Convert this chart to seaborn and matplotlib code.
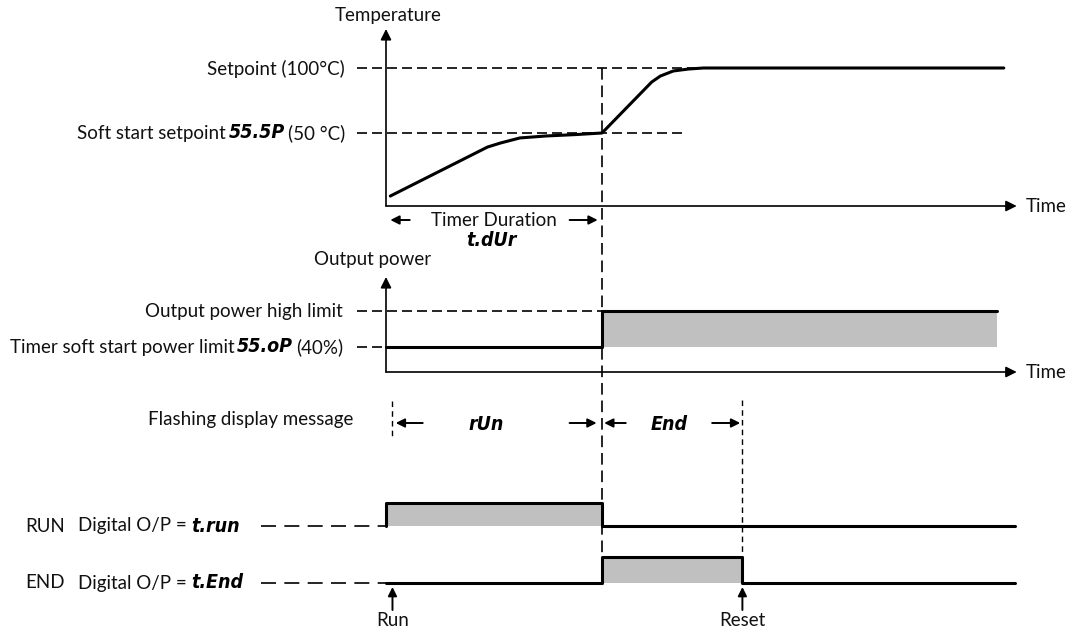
import seaborn as sns
import matplotlib.pyplot as plt

# timing values (arbitrary time units, soft start timer runs from 0 to 10)
timer_start = 0.0
timer_duration = 10.0
reset_time = 16.5
temp_end = 28.6
power_end = 28.3
digital_end = 29.1

setpoint = 100        # degC
soft_setpoint = 50    # degC  (SS.SP)
power_high = 100      # %
power_soft = 40       # %     (SS.OP)

# temperature response
temp_time = [0.2, 4.7, 5.3, 6.2, 7.4, 8.8, 10.0, 12.3, 12.7, 13.3, 14.0, 14.7, 28.6]
temp_value = [1.5, 39.2, 42.3, 46.2, 47.7, 48.8, 50.0, 89.2, 93.8, 97.7, 99.2, 100, 100]

power_time = [timer_start, timer_duration, timer_duration, power_end]
power_value = [power_soft, power_soft, power_high, power_high]

run_time = [timer_start, timer_start, timer_duration, timer_duration, digital_end]
run_state = [0, 1, 1, 0, 0]
end_time = [timer_start, timer_duration, timer_duration, reset_time, reset_time, digital_end]
end_state = [0, 0, 1, 1, 0, 0]

# ---- layout ----
W, H = 1071, 629
ORIGIN_X = 386          # pixel column of the time origin
PX_PER_T = 21.6
XLIM = (-ORIGIN_X / PX_PER_T, (W - ORIGIN_X) / PX_PER_T)
T_ARROW = 29.2

sns.set_theme(style="white")
plt.rcParams['font.family'] = ['Lato', 'DejaVu Sans']

GREY = '#c0c0c0'
DASH = dict(color='black', lw=1.2, ls=(0, (6, 3)), clip_on=False)
LEADER = dict(color='black', lw=1.2, ls=(0, (9, 5)), clip_on=False)
TXT = dict(fontsize=13.5, color='#111111')
SEG = dict(family='DejaVu Sans', fontstretch='condensed', fontweight='bold',
           fontstyle='italic', fontsize=14, color='black')

fig = plt.figure(figsize=(W / 100, H / 100), dpi=100)

# pixel overlay for the row labels, time x rows overlay for guides
px = fig.add_axes([0, 0, 1, 1])
px.set_xlim(0, W)
px.set_ylim(H, 0)
px.axis('off')

lay = fig.add_axes([0, 0, 1, 1])
lay.set_xlim(XLIM)
lay.set_ylim(H, 0)
lay.axis('off')
lay.patch.set_alpha(0)


def panel(row_a, val_a, row_b, val_b):
    ax = fig.add_axes([0, 1 - row_a / H, 1, (row_a - row_b) / H])
    ax.patch.set_alpha(0)
    ax.axis('off')
    return ax, (val_a, val_b)


panels = [panel(133, soft_setpoint, 68, setpoint),
          panel(347, power_soft, 311, power_high),
          panel(526, 0, 503, 1),
          panel(583, 0, 557, 1)]
ax_temp, ax_pow, ax_run, ax_end = [p[0] for p in panels]

LINE = dict(color='black', lw=2.2, estimator=None, sort=False, clip_on=False,
            zorder=4)

# temperature
ax_temp.plot([-1.35, 14.7], [setpoint] * 2, **DASH)
ax_temp.plot([-1.35, 13.75], [soft_setpoint] * 2, **DASH)
sns.lineplot(x=temp_time, y=temp_value, ax=ax_temp, **LINE)

# output power
ax_pow.plot([-1.35, timer_duration], [power_high] * 2, **DASH)
ax_pow.plot([-1.35, timer_start], [power_soft] * 2, **DASH)
ax_pow.fill_between([timer_duration, power_end], power_soft, power_high,
                    color=GREY, lw=0, clip_on=False, zorder=2)
sns.lineplot(x=power_time, y=power_value, ax=ax_pow, **LINE)

# digital outputs
for ax, t, s in [(ax_run, run_time, run_state), (ax_end, end_time, end_state)]:
    ax.plot([-5.8, timer_start], [0, 0], **LEADER)
    hi = [i for i, v in enumerate(s) if v == 1]
    ax.fill_between([t[hi[0]], t[hi[-1]]], 0, 1, color=GREY, lw=0,
                    clip_on=False, zorder=2)
    sns.lineplot(x=t, y=s, ax=ax, **LINE)

for ax, lim in panels:
    ax.set_xlim(XLIM)
    ax.set_ylim(*lim)
    ax.set_xlabel('')
    ax.set_ylabel('')

# axes arrows
AX_ARROW = dict(arrowstyle='-|>', color='black', lw=1.2, mutation_scale=16,
                shrinkA=0, shrinkB=0)
for top, base in [(29, 206), (277, 372)]:
    lay.annotate('', xy=(0, top), xytext=(0, base), arrowprops=AX_ARROW)
    lay.annotate('', xy=(T_ARROW, base), xytext=(0, base), arrowprops=AX_ARROW)
    lay.text(T_ARROW + 0.4, base, 'Time', ha='left', va='center', **TXT)

# vertical guides
lay.plot([timer_duration] * 2, [68, 557], color='black', lw=1.2,
         ls=(0, (7, 3.5)), zorder=3)
lay.plot([reset_time] * 2, [400, 557], color='black', lw=1.0,
         ls=(0, (4, 3)), zorder=3)
lay.plot([0.3] * 2, [401, 437], color='black', lw=1.0, ls=(0, (4, 3)))

# span arrows
SPAN = dict(arrowstyle='-|>', color='black', lw=1.4, mutation_scale=13,
            shrinkA=0, shrinkB=0)
for row, l_tip, l_tail, r_tail, r_tip in [(220, 0.2, 1.1, 8.5, 9.8),
                                         (423, 0.45, 1.7, 8.5, 9.75),
                                         (423, 10.1, 11.1, 15.1, 16.4)]:
    lay.annotate('', xy=(l_tip, row), xytext=(l_tail, row), arrowprops=SPAN)
    lay.annotate('', xy=(r_tip, row), xytext=(r_tail, row), arrowprops=SPAN)

lay.text(5.0, 220, 'Timer Duration', ha='center', va='center', **TXT)
lay.text(4.9, 241, 't.dUr', ha='center', va='center', **SEG)
lay.text(4.65, 425, 'rUn', ha='center', va='center', **SEG)
lay.text(13.1, 424, 'End', ha='center', va='center', **SEG)
lay.text(0.1, 16, 'Temperature', ha='center', va='center', **TXT)

# run / reset events
for t, name in [(0.3, 'Run'), (reset_time, 'Reset')]:
    lay.annotate('', xy=(t, 587), xytext=(t, 610), arrowprops=SPAN)
    lay.text(t, 620, name, ha='center', va='center', **TXT)


def label_right(x, y, parts):
    prev = None
    for text, style in reversed(parts):
        if prev is None:
            prev = px.text(x, y, text, ha='right', va='center', **style)
        else:
            prev = px.annotate(text, xy=(0, 0.5), xycoords=prev, xytext=(-2, 0),
                               textcoords='offset points', ha='right',
                               va='center', **style)


label_right(345, 69, [('Setpoint (100°C)', TXT)])
label_right(345, 133, [('Soft start setpoint', TXT), ('55.5P', SEG),
                       ('(50 °C)', TXT)])
px.text(314, 259, 'Output power', ha='left', va='center', **TXT)
label_right(343, 311, [('Output power high limit', TXT)])
label_right(343, 347, [('Timer soft start power limit', TXT), ('55.oP', SEG),
                       ('(40%)', TXT)])
label_right(353, 420, [('Flashing display message', TXT)])

for row, name, code in [(526, 'RUN', 't.run'), (583, 'END', 't.End')]:
    px.text(25, row, name, ha='left', va='center', **TXT)
    d = px.text(78, row, 'Digital O/P =', ha='left', va='center', **TXT)
    px.annotate(code, xy=(1, 0.5), xycoords=d, xytext=(3, 0),
                textcoords='offset points', ha='left', va='center', **SEG)

fig.savefig('out.png', dpi=100)
